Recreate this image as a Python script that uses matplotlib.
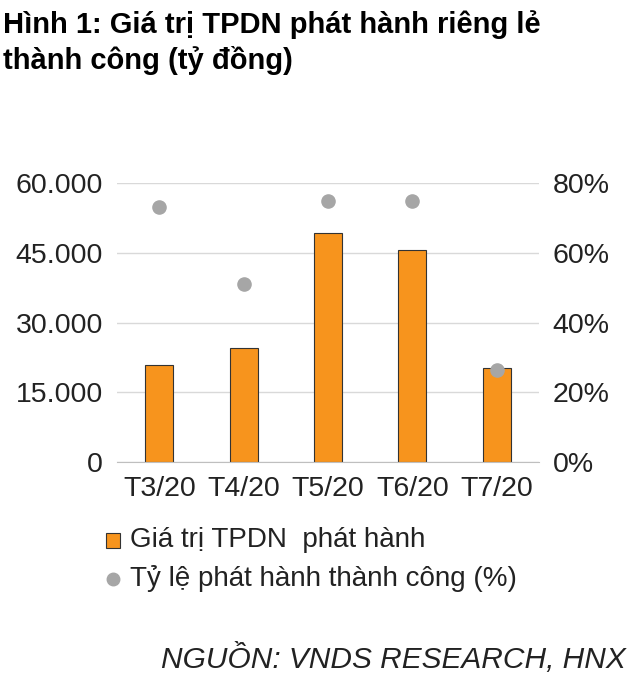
import numpy as np
import matplotlib.pyplot as plt
from matplotlib.ticker import FuncFormatter

months = ['T3/20', 'T4/20', 'T5/20', 'T6/20', 'T7/20']
gia_tri = [20800, 24500, 49200, 45700, 20200]
ty_le = [73, 51, 74.8, 74.8, 26.5]

plt.rcParams['font.family'] = ['Liberation Sans', 'DejaVu Sans']

fig = plt.figure(figsize=(6.4, 6.92), dpi=100)
ax = fig.add_axes([0.183, 0.332, 0.659, 0.4035])
x = np.arange(len(months))

ax.bar(x, gia_tri, width=0.33, color='#F7941D', edgecolor='#333333', linewidth=0.8, zorder=2)
ax.set_ylim(0, 60000)
ax.set_xlim(-0.5, 4.5)
ax.set_yticks([0, 15000, 30000, 45000, 60000])
ax.yaxis.set_major_formatter(FuncFormatter(lambda v, p: f'{int(v):,}'.replace(',', '.')))
ax.grid(axis='y', color='#d9d9d9', linewidth=1, zorder=0)
ax.set_xticks(x)
ax.set_xticklabels(months)
for s in ['top', 'left', 'right']:
    ax.spines[s].set_visible(False)
ax.spines['bottom'].set_color('#bfbfbf')
ax.tick_params(length=0, labelsize=20.5, colors='#222222', pad=10)

ax2 = ax.twinx()
ax2.scatter(x, ty_le, s=90, color='#A6A6A6', zorder=3)
ax2.set_ylim(0, 80)
ax2.set_yticks([0, 20, 40, 60, 80])
ax2.yaxis.set_major_formatter(FuncFormatter(lambda v, p: f'{int(v)}%'))
for s in ['top', 'left', 'right', 'bottom']:
    ax2.spines[s].set_visible(False)
ax2.tick_params(length=0, labelsize=20.5, colors='#222222', pad=10)

fig.text(0.005, 0.985, 'Hình 1: Giá trị TPDN phát hành riêng lẻ\nthành công (tỷ đồng)',
         fontsize=21, fontweight='bold', va='top', ha='left', linespacing=1.3)

fig.patches.append(plt.Rectangle((0.166, 0.208), 0.022, 0.022, transform=fig.transFigure,
                                 facecolor='#F7941D', edgecolor='#333333', linewidth=0.8))
fig.text(0.203, 0.219, 'Giá trị TPDN  phát hành', fontsize=20, va='center', color='#222222')
fig.lines.append(plt.Line2D([0.177], [0.164], transform=fig.transFigure, marker='o',
                            markersize=9, color='#A6A6A6', linestyle='none'))
fig.text(0.203, 0.164, 'Tỷ lệ phát hành thành công (%)', fontsize=20, va='center', color='#222222')

fig.text(0.977, 0.048, 'NGUỒN: VNDS RESEARCH, HNX', fontsize=21.5, style='italic',
         ha='right', va='center', color='#222222')

fig.savefig('out.png', dpi=100)
